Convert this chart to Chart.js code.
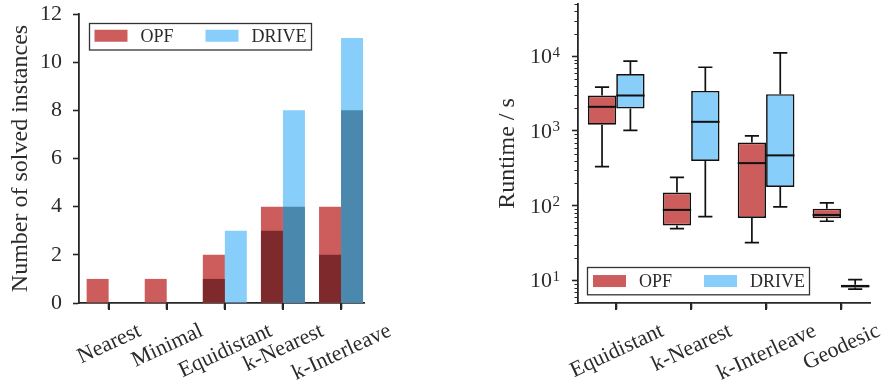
<!DOCTYPE html>
<html><head><meta charset="utf-8">
<script src="https://cdn.jsdelivr.net/npm/chart.js@4.4.1/dist/chart.umd.min.js"></script>
<style>
html,body{margin:0;padding:0;background:#fff;}
#wrap{position:relative;width:883px;height:388px;overflow:hidden;background:#fff;}
canvas{position:absolute;top:0;}
#c1{left:0;}
#c2{left:440px;}
</style></head><body>
<div id="wrap"><canvas id="c1" width="440" height="388"></canvas><canvas id="c2" width="443" height="388"></canvas></div>
<script>
// ---------- data: left panel (number of solved instances) ----------
const solvedCategories = ['Nearest', 'Minimal', 'Equidistant', 'k-Nearest', 'k-Interleave'];
const opfSolved = [1, 1, 2, 4, 4];
const opfSolvedDark = [0, 0, 1, 3, 2];
const driveSolved = [0, 0, 3, 8, 11];
const driveSolvedDark = [0, 0, 0, 4, 8];
const solvedTicks = [0, 2, 4, 6, 8, 10, 12];

// ---------- data: right panel (runtime box plots, seconds) ----------
const runtimeCategories = ['Equidistant', 'k-Nearest', 'k-Interleave', 'Geodesic'];
const opfMin    = [333, 49.5, 32.2, 62];
const opfQ1     = [1210, 54.3, 68.7, 68];
const opfMedian = [2105, 88, 372, 75.3];
const opfQ3     = [2985, 150, 703, 91.4];
const opfMax    = [3855, 240, 863, 109];
const driveMin    = [1018, 71.6, 96.4, 7.66];
const driveQ1     = [2000, 396, 178, 8.07];
const driveMedian = [2985, 1327, 472, 8.4];
const driveQ3     = [5800, 3440, 3110, 8.77];
const driveMax    = [8580, 7130, 11090, 10.3];
const runtimeTicks = [10, 100, 1000, 10000];
const runtimeTickBase = '10';
const runtimeTickExponents = ['1', '2', '3', '4'];

// ---------- style ----------
const COL = {
  opf: '#CD5C5C', opfDark: '#7E2A2D',
  drive: '#87CEFA', driveDark: '#4A88AE',
  axis: '#262626', text: '#2b2b2b', box: '#111111'
};
const FONT = "'Liberation Serif', 'Times New Roman', serif";

// ---------- plugins ----------
const xLabelPlugin = {
  id: 'xLabels',
  afterDraw(chart, args, o) {
    const sc = chart.scales.x, ctx = chart.ctx;
    const n = o.labels.length;
    const axisY = chart.chartArea.bottom;
    ctx.save();
    ctx.fillStyle = COL.axis;
    for (let i = 0; i < n; i++) {
      const px = Math.round(sc.getPixelForValue(i));
      ctx.fillRect(px - 1, axisY, 2, 7);
    }
    ctx.font = o.size + 'px ' + FONT;
    ctx.fillStyle = COL.text;
    ctx.textAlign = 'center';
    ctx.textBaseline = 'alphabetic';
    const th = o.angle * Math.PI / 180;
    const a = o.size * 0.68;
    for (let i = 0; i < n; i++) {
      const lab = o.labels[i];
      const w = ctx.measureText(lab).width;
      const cx = sc.getPixelForValue(i);
      const cy = axisY + o.gap + (w / 2) * Math.sin(th) + (a / 2) * Math.cos(th);
      ctx.save();
      ctx.translate(cx, cy);
      ctx.rotate(-th);
      ctx.fillText(lab, 0, a / 2);
      ctx.restore();
    }
    ctx.restore();
  }
};

const logLabelPlugin = {
  id: 'logLabels',
  afterDraw(chart, args, o) {
    if (!o.enabled) return;
    const ys = chart.scales.y, ctx = chart.ctx;
    const xr = chart.chartArea.left - o.gap;
    ctx.save();
    ctx.fillStyle = COL.text;
    ctx.textBaseline = 'alphabetic';
    ys.ticks.forEach((t, i) => {
      const py = ys.getPixelForValue(t.value);
      const exp = o.exponents[i];
      ctx.font = o.expSize + 'px ' + FONT;
      const ew = ctx.measureText(exp).width;
      ctx.textAlign = 'left';
      ctx.fillText(exp, xr - ew, py + 0.5);
      ctx.font = o.size + 'px ' + FONT;
      ctx.textAlign = 'right';
      ctx.fillText(o.base, xr - ew - 0.5, py + 7);
    });
    ctx.restore();
  }
};

const boxLegendPlugin = {
  id: 'boxLegend',
  afterDraw(chart, args, o) {
    const ca = chart.chartArea, ctx = chart.ctx;
    const x0 = ca.left + o.dx;
    const y0 = o.fromBottom ? ca.bottom - o.dy - o.h : ca.top + o.dy;
    ctx.save();
    ctx.fillStyle = 'rgba(255,255,255,0.85)';
    ctx.fillRect(x0, y0, o.w, o.h);
    ctx.strokeStyle = '#333';
    ctx.lineWidth = 1.3;
    ctx.strokeRect(Math.round(x0) + 0.5, Math.round(y0) + 0.5, o.w, o.h);
    ctx.font = o.size + 'px ' + FONT;
    ctx.textAlign = 'left';
    ctx.textBaseline = 'alphabetic';
    o.items.forEach((it, k) => {
      const px = x0 + 6 + k * 111;
      const py = y0 + (o.h - 12) / 2;
      ctx.fillStyle = it.color;
      ctx.fillRect(px, py, 33, 12);
      ctx.fillStyle = COL.text;
      ctx.fillText(it.text, px + 46, py + 12);
    });
    ctx.restore();
  }
};

const whiskerPlugin = {
  id: 'whiskers',
  afterDatasetsDraw(chart, args, o) {
    const ys = chart.scales.y, ctx = chart.ctx;
    o.series.forEach(s => {
      const meta = chart.getDatasetMeta(s.dataset);
      meta.data.forEach((el, i) => {
        const p = el.getProps(['x', 'width'], true);
        const x = p.x, w = p.width;
        const yMin = ys.getPixelForValue(s.min[i]);
        const yQ1 = ys.getPixelForValue(s.q1[i]);
        const yMed = ys.getPixelForValue(s.median[i]);
        const yQ3 = ys.getPixelForValue(s.q3[i]);
        const yMax = ys.getPixelForValue(s.max[i]);
        ctx.save();
        ctx.strokeStyle = COL.box;
        ctx.lineWidth = 1.7;
        ctx.beginPath();
        ctx.moveTo(x, yQ3); ctx.lineTo(x, yMax);
        ctx.moveTo(x, yQ1); ctx.lineTo(x, yMin);
        ctx.moveTo(x - w / 4, yMax); ctx.lineTo(x + w / 4, yMax);
        ctx.moveTo(x - w / 4, yMin); ctx.lineTo(x + w / 4, yMin);
        ctx.stroke();
        ctx.lineWidth = 2;
        ctx.beginPath();
        ctx.moveTo(x - w / 2, yMed); ctx.lineTo(x + w / 2, yMed);
        ctx.stroke();
        ctx.restore();
      });
    });
  }
};

const minorTickPlugin = {
  id: 'minorTicks',
  afterDraw(chart, args, o) {
    if (!o.enabled) return;
    const ys = chart.scales.y, ctx = chart.ctx;
    const x = chart.chartArea.left;
    ctx.save();
    ctx.strokeStyle = COL.axis;
    ctx.lineWidth = 1.2;
    ctx.beginPath();
    for (let e = 0; e <= 4; e++) {
      for (let m = 2; m <= 9; m++) {
        const v = m * Math.pow(10, e);
        if (v < ys.min || v > ys.max) continue;
        const py = Math.round(ys.getPixelForValue(v)) + 0.5;
        ctx.moveTo(x - 3.5, py); ctx.lineTo(x, py);
      }
    }
    ctx.stroke();
    ctx.restore();
  }
};

function fixY(width) {
  return function (s) { s.width = width; s.paddingTop = 0; s.paddingBottom = 0; };
}
function fixX(height) {
  return function (s) { s.height = height; s.paddingLeft = 0; s.paddingRight = 0; };
}
const gridOpts = { drawOnChartArea: false, drawTicks: true, offset: false, tickLength: 6, tickWidth: 1.6, tickColor: COL.axis };
const borderOpts = { display: true, color: COL.axis, width: 1.8 };

// ---------- left chart ----------
const pts = arr => arr.map((v, i) => ({ x: i, y: v }));
new Chart(document.getElementById('c1'), {
  type: 'bar',
  data: {
    datasets: [
      { label: 'OPF (dark)', data: pts(opfSolvedDark), backgroundColor: COL.opfDark, stack: 'opf' },
      { label: 'DRIVE (dark)', data: pts(driveSolvedDark), backgroundColor: COL.driveDark, stack: 'drive' },
      { label: 'OPF', data: pts(opfSolved), backgroundColor: COL.opf, stack: 'opf' },
      { label: 'DRIVE', data: pts(driveSolved), backgroundColor: COL.drive, stack: 'drive' }
    ]
  },
  options: {
    responsive: false, animation: false, events: [], devicePixelRatio: 1,
    layout: { padding: { left: 0, top: 14, right: 76, bottom: 0 } },
    datasets: { bar: { barPercentage: 1, categoryPercentage: 0.757, borderWidth: 0 } },
    scales: {
      x: {
        type: 'linear', min: -0.51, max: 4.395, stacked: true, offset: false,
        afterBuildTicks: s => { s.ticks = solvedCategories.map((c, i) => ({ value: i })); },
        afterFit: fixX(85),
        ticks: { display: false },
        grid: gridOpts, border: borderOpts
      },
      y: {
        type: 'linear', min: 0, max: 12, stacked: false,
        afterBuildTicks: s => { s.ticks = solvedTicks.map(v => ({ value: v })); },
        afterFit: fixY(79),
        ticks: { color: COL.text, font: { family: FONT, size: 22 }, padding: 11 },
        grid: gridOpts, border: borderOpts,
        title: { display: true, text: 'Number of solved instances', color: COL.text,
                 font: { family: FONT, size: 24 }, padding: { top: 6, bottom: 0 } }
      }
    },
    plugins: {
      legend: { display: false }, tooltip: { enabled: false },
      xLabels: { labels: solvedCategories, angle: 25, gap: 18.5, size: 22 },
      boxLegend: { dx: 9.5, dy: 8.5, w: 222, h: 26.5, size: 18, fromBottom: false,
                   items: [{ text: 'OPF', color: COL.opf }, { text: 'DRIVE', color: COL.drive }] }
    }
  },
  plugins: [xLabelPlugin, boxLegendPlugin]
});

// ---------- right chart ----------
const boxes = (lo, hi) => lo.map((v, i) => ({ x: i, y: [v, hi[i]] }));
new Chart(document.getElementById('c2'), {
  type: 'bar',
  data: {
    datasets: [
      { label: 'OPF', data: boxes(opfQ1, opfQ3), backgroundColor: COL.opf },
      { label: 'DRIVE', data: boxes(driveQ1, driveQ3), backgroundColor: COL.drive }
    ]
  },
  options: {
    responsive: false, animation: false, events: [], devicePixelRatio: 1,
    layout: { padding: { left: 0, top: 4, right: 13, bottom: 0 } },
    datasets: { bar: { barPercentage: 1, categoryPercentage: 0.757, borderWidth: 1.7,
                       borderColor: COL.box, borderSkipped: false } },
    scales: {
      x: {
        type: 'linear', min: -0.51, max: 3.387, stacked: false, offset: false,
        afterBuildTicks: s => { s.ticks = runtimeCategories.map((c, i) => ({ value: i })); },
        afterFit: fixX(85),
        ticks: { display: false },
        grid: gridOpts, border: borderOpts
      },
      y: {
        type: 'logarithmic', min: 5, max: 50000, stacked: false,
        afterBuildTicks: s => { s.ticks = runtimeTicks.map(v => ({ value: v })); },
        afterFit: fixY(138),
        ticks: { display: false },
        grid: gridOpts, border: borderOpts,
        title: { display: true, text: 'Runtime / s', color: COL.text,
                 font: { family: FONT, size: 24 }, padding: { top: 53, bottom: 0 } }
      }
    },
    plugins: {
      legend: { display: false }, tooltip: { enabled: false },
      xLabels: { labels: runtimeCategories, angle: 25, gap: 18.5, size: 22 },
      logLabels: { enabled: true, base: runtimeTickBase, exponents: runtimeTickExponents,
                   size: 22, expSize: 15, gap: 18 },
      boxLegend: { dx: 9, dy: 8.3, w: 222, h: 27.3, size: 18, fromBottom: true,
                   items: [{ text: 'OPF', color: COL.opf }, { text: 'DRIVE', color: COL.drive }] },
      whiskers: { series: [
        { dataset: 0, min: opfMin, q1: opfQ1, median: opfMedian, q3: opfQ3, max: opfMax },
        { dataset: 1, min: driveMin, q1: driveQ1, median: driveMedian, q3: driveQ3, max: driveMax }
      ] },
      minorTicks: { enabled: true }
    }
  },
  plugins: [xLabelPlugin, boxLegendPlugin, whiskerPlugin, minorTickPlugin, logLabelPlugin]
});
</script>
</body></html>
